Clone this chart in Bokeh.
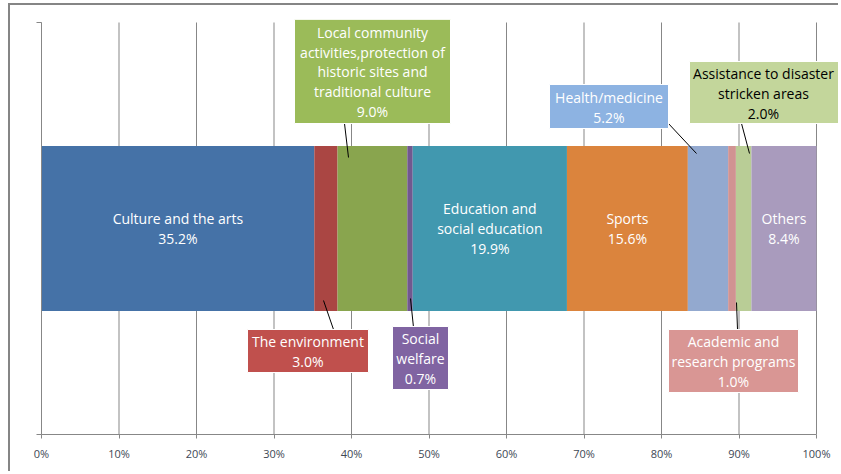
from bokeh.plotting import figure
from bokeh.models import Range1d, FixedTicker, ColumnDataSource
from bokeh.core.properties import value
from bokeh.embed import file_html
from bokeh.resources import INLINE

# ---------------- data ----------------
categories = [
    "Culture and the arts",
    "The environment",
    "Local community activities,protection of historic sites and traditional culture",
    "Social welfare",
    "Education and social education",
    "Sports",
    "Health/medicine",
    "Academic and research programs",
    "Assistance to disaster stricken areas",
    "Others",
]
shares = [35.2, 3.0, 9.0, 0.7, 19.9, 15.6, 5.2, 1.0, 2.0, 8.4]
label_text = [
    "Culture and the arts",
    "The environment",
    "Local community\nactivities,protection of\nhistoric sites and\ntraditional culture",
    "Social\nwelfare",
    "Education and\nsocial education",
    "Sports",
    "Health/medicine",
    "Academic and\nresearch programs",
    "Assistance to disaster\nstricken areas",
    "Others",
]
tick_values = [0, 10, 20, 30, 40, 50, 60, 70, 80, 90, 100]
tick_labels = ["0%", "10%", "20%", "30%", "40%", "50%", "60%", "70%", "80%", "90%", "100%"]

# ---------------- styles ----------------
bar_colors = ["#4572A7", "#AA4643", "#89A54E", "#71588F", "#4198AF",
              "#DB843D", "#93A9CF", "#D19392", "#B9CD96", "#A99BBD"]
box_colors = {1: "#C0504D", 2: "#9BBB59", 3: "#8064A2", 6: "#8DB3E2",
              7: "#D99694", 8: "#C3D69B"}
box_text_colors = {1: "white", 2: "white", 3: "white", 6: "white",
                   7: "white", 8: "black"}
FONT = "Open Sans"
FS = "14px"
LH = 1.05
GRID = "#878787"

starts, ends, acc = [], [], 0.0
for s in shares:
    starts.append(acc)
    acc += s
    ends.append(acc)
centers = [(a + b) / 2 for a, b in zip(starts, ends)]
full_labels = [f"{t}\n{s:.1f}%" for t, s in zip(label_text, shares)]

# page layout: canvas origin at page (10, 5); 7.75 px per percent, 412 px per unit y
OX, OY = 10, 5
W, H = 830, 468
FL, FT, FB = 41, 19, 434          # frame left / top / bottom in page px
frame_w = W - (FL - OX)
x_end = frame_w / 7.75
y_end = (FB - FT) / 412

p = figure(width=W, height=H,
           x_range=Range1d(0, x_end), y_range=Range1d(0, y_end),
           output_backend="svg", toolbar_location=None,
           min_border_left=FL - OX, min_border_right=0,
           min_border_top=FT - OY, min_border_bottom=H - (FB - OY))
p.styles = {"margin-left": "8px", "margin-top": "3px",
            "border-left": "2px solid #858585", "border-top": "2px solid #858585"}
p.outline_line_color = None
p.background_fill_color = "white"
p.border_fill_color = "white"

# axes
p.xaxis.ticker = FixedTicker(ticks=tick_values)
p.xaxis.major_label_overrides = {v: l for v, l in zip(tick_values, tick_labels)}
p.xaxis.bounds = (0, 100)
p.xaxis.axis_line_color = GRID
p.xaxis.major_tick_line_color = GRID
p.xaxis.major_tick_out = 4
p.xaxis.major_tick_in = 0
p.xaxis.minor_tick_line_color = None
p.xaxis.major_label_standoff = 7
p.xaxis.major_label_text_font = FONT
p.xaxis.major_label_text_font_size = "11px"
p.xaxis.major_label_text_color = "#404855"

p.yaxis.ticker = FixedTicker(ticks=[0, 1])
p.yaxis.bounds = (0, 1)
p.yaxis.axis_line_color = GRID
p.yaxis.major_tick_line_color = GRID
p.yaxis.major_tick_out = 5
p.yaxis.major_tick_in = 0
p.yaxis.minor_tick_line_color = None
p.yaxis.major_label_text_color = None
p.yaxis.major_label_text_font_size = "1px"
p.yaxis.major_label_standoff = 0

p.xgrid.visible = False
p.ygrid.visible = False
# vertical gridlines at the x ticks, spanning the category band 0..1
p.segment(x0=tick_values, y0=0, x1=tick_values, y1=1,
          line_color=GRID, line_width=1, level="underlay")

# bars
src = ColumnDataSource(dict(left=starts, right=ends, color=bar_colors))
p.hbar(y=0.5, left="left", right="right", height=0.4, fill_color="color",
       line_color=None, source=src)

# labels inside bars
inside = [0, 4, 5, 9]
p.text(x=[centers[i] for i in inside], y=0.5, text=[full_labels[i] for i in inside],
       text_align="center", text_baseline="middle", text_color="white",
       text_font=value(FONT), text_font_size=FS, text_line_height=LH)

# callouts (layout in page pixels)
def X(px):
    return (px - FL) / 7.75

def Y(py):
    return (FB - py) / 412

# index: (box left, right, top, bottom, text cx, text cy, leader x0,y0,x1,y1)
callouts = {
    2: (294, 450, 19, 123, 372, 71.5, 344, 123, 348, 157),
    1: (247, 368, 329, 372, 307.5, 351, 323, 300, 333, 329),
    3: (392, 448, 326, 389, 420, 358, 410, 298, 413, 327),
    6: (549, 668, 84, 128, 608.5, 107, 667, 122, 696, 153),
    8: (689, 838, 61, 123, 763, 93, 741, 123, 749, 153),
    7: (668, 798, 329, 392, 733, 361, 736, 302, 737, 329),
}
for i, (l, r, t, b, cx, cy, lx0, ly0, lx1, ly1) in callouts.items():
    p.segment(x0=[X(lx0)], y0=[Y(ly0)], x1=[X(lx1)], y1=[Y(ly1)],
              line_color="black", line_width=1)
    p.quad(left=[X(l)], right=[X(r)], top=[Y(t)], bottom=[Y(b)],
           fill_color=box_colors[i], line_color="white", line_width=1)
    p.text(x=[X(cx)], y=[Y(cy)], text=[full_labels[i]],
           text_align="center", text_baseline="middle",
           text_color=box_text_colors[i], text_font=value(FONT),
           text_font_size=FS, text_line_height=LH)

open("out.html", "w").write(file_html(p, INLINE))
